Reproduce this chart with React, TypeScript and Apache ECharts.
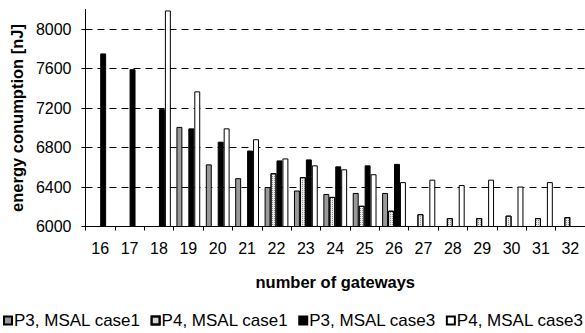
import React, { useEffect, useRef } from "react";
import * as echarts from "echarts";

const gateways = ["16", "17", "18", "19", "20", "21", "22", "23", "24", "25", "26", "27", "28", "29", "30", "31", "32"];
const p3Case1 = [null, null, null, 7010, 6630, 6490, 6400, 6365, 6330, 6340, 6340, null, null, null, null, null, null];
const p4Case1 = [null, null, null, null, null, null, 6540, 6500, 6300, 6210, 6160, 6125, 6085, 6085, 6110, 6085, 6095];
const p3Case3 = [7755, 7595, 7190, 6995, 6860, 6770, 6670, 6680, 6610, 6620, 6635, null, null, null, null, null, null];
const p4Case3 = [null, null, 8190, 7370, 6995, 6885, 6690, 6620, 6580, 6530, 6450, 6475, 6420, 6475, 6405, 6450, null];
const yTicks = [6000, 6400, 6800, 7200, 7600, 8000];
const gridValues = [6400, 6800, 7200, 7600, 8000];
const seriesNames = ["P3, MSAL case1", "P4, MSAL case1", "P3, MSAL case3", "P4, MSAL case3"];

const FONT = "'Liberation Sans', Arial, sans-serif";

export default function App() {
  const ref = useRef<HTMLDivElement>(null);
  useEffect(() => {
    if (!ref.current) return;
    const chart = echarts.init(ref.current, undefined, { renderer: "svg" });
    const border = { borderColor: "#000", borderWidth: 1 };
    const option: any = {
      animation: false,
      backgroundColor: "#fff",
      textStyle: { fontFamily: FONT, color: "#000" },
      grid: { left: 82.5, top: 9.5, width: 504, height: 217 },
      legend: {
        left: 3,
        top: 312,
        padding: 0,
        itemWidth: 8,
        itemHeight: 8,
        itemGap: 10,
        icon: "rect",
        textStyle: { fontFamily: FONT, fontSize: 17, color: "#000", padding: [0, 0, 0, -3] },
        data: seriesNames,
      },
      xAxis: {
        type: "category",
        data: gateways,
        name: "number of gateways",
        nameLocation: "middle",
        nameGap: 47,
        nameTextStyle: { fontFamily: FONT, fontSize: 16.5, fontWeight: "bold", color: "#000" },
        axisLine: { lineStyle: { color: "#000", width: 1 } },
        axisTick: { show: true, length: 4, lineStyle: { color: "#000" } },
        axisLabel: { fontFamily: FONT, fontSize: 16, color: "#000", margin: 13.5, interval: 0 },
      },
      yAxis: {
        type: "value",
        min: 6000,
        max: 8200,
        interval: 400,
        name: "energy conumption [nJ]",
        nameLocation: "middle",
        nameGap: 56,
        nameTextStyle: { fontFamily: FONT, fontSize: 16.5, fontWeight: "bold", color: "#000" },
        axisLine: { show: true, lineStyle: { color: "#000", width: 1 } },
        axisTick: { show: true, length: 4, lineStyle: { color: "#000" }, customValues: yTicks },
        axisLabel: {
          fontFamily: FONT,
          fontSize: 16,
          color: "#000",
          margin: 14,
          customValues: yTicks,
          formatter: (v: number) => String(v),
        },
        splitLine: { show: false },
      },
      series: [
        {
          name: seriesNames[0],
          type: "bar",
          data: p3Case1,
          barGap: "0%",
          barCategoryGap: "19%",
          itemStyle: { color: "#999999", ...border },
          markLine: {
            z: 1,
            silent: true,
            symbol: "none",
            label: { show: false },
            lineStyle: { color: "#000", width: 1, type: [7, 5] },
            data: gridValues.map((v) => ({ yAxis: v })),
          },
        },
        {
          name: seriesNames[1],
          type: "bar",
          data: p4Case1,
          itemStyle: {
            color: "#ececec",
            ...border,
            decal: {
              symbol: "rect",
              symbolSize: 1,
              dashArrayX: [1, 1],
              dashArrayY: [1, 1],
              color: "#8a8a8a",
              rotation: 0,
            },
          },
        },
        {
          name: seriesNames[2],
          type: "bar",
          data: p3Case3,
          itemStyle: { color: "#000000", ...border },
        },
        {
          name: seriesNames[3],
          type: "bar",
          data: p4Case3,
          itemStyle: { color: "#ffffff", ...border },
        },
      ],
    };
    chart.setOption(option);
    return () => chart.dispose();
  }, []);
  return <div ref={ref} style={{ position: "fixed", left: 0, top: 0, width: 585, height: 333 }} />;
}
